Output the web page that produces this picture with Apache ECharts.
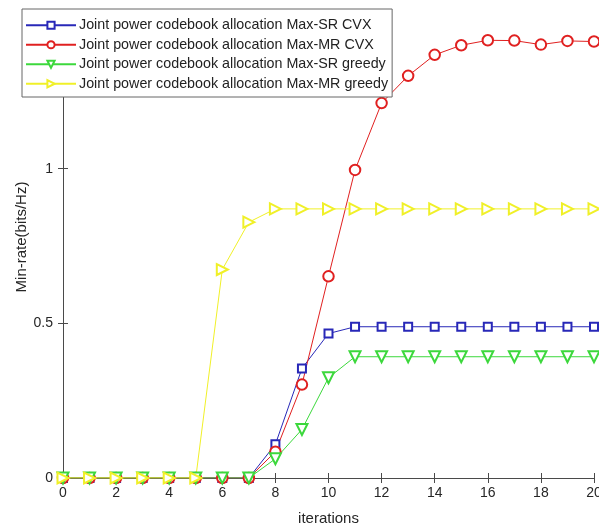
<!DOCTYPE html>
<html>
<head>
<meta charset="utf-8">
<script src="https://cdn.jsdelivr.net/npm/echarts@6/dist/echarts.min.js"></script>
<style>
  html, body { margin: 0; padding: 0; background: #fff; }
  #chart { width: 599px; height: 528px; }
</style>
</head>
<body>
<div id="chart"></div>
<script>
  // iterations 0..20
  const iterations = [0,1,2,3,4,5,6,7,8,9,10,11,12,13,14,15,16,17,18,19,20]
  const xTicks = [0,2,4,6,8,10,12,14,16,18,20]
  const yTicks = [0, 0.5, 1]

  const seriesNames = [
    'Joint power codebook allocation Max-SR CVX',
    'Joint power codebook allocation Max-MR CVX',
    'Joint power codebook allocation Max-SR greedy',
    'Joint power codebook allocation Max-MR greedy'
  ]
  const srCvx    = [0,0,0,0,0,0,0,0,0.109,0.354,0.467,0.489,0.489,0.489,0.489,0.489,0.489,0.489,0.489,0.489,0.489]
  const mrCvx    = [0,0,0,0,0,0,0,0,0.085,0.302,0.652,0.996,1.212,1.300,1.368,1.399,1.415,1.414,1.401,1.413,1.411]
  const srGreedy = [0,0,0,0,0,0,0,0,0.062,0.157,0.324,0.392,0.392,0.392,0.392,0.392,0.392,0.392,0.392,0.392,0.392]
  const mrGreedy = [0,0,0,0,0,0,0.674,0.827,0.870,0.870,0.870,0.870,0.870,0.870,0.870,0.870,0.870,0.870,0.870,0.870,0.870]

  const pairs = vals => iterations.map((x, i) => [x, vals[i]])

  const chart = echarts.init(document.getElementById('chart'))
  const font = 'Liberation Sans, Arial, Helvetica, sans-serif'
  const axisColor = '#4a4a4a'

  function mkSeries(name, vals, color, symbol, size, rotate) {
    return {
      name: name,
      type: 'line',
      data: pairs(vals),
      symbol: symbol,
      symbolSize: size,
      symbolRotate: rotate,
      showAllSymbol: true,
      lineStyle: { color: color, width: 1 },
      itemStyle: { color: color, borderColor: color, borderWidth: 1.2 },
      emphasis: { disabled: true },
      animation: false
    }
  }

  chart.setOption({
    animation: false,
    textStyle: { fontFamily: font },
    grid: { left: 63, right: 5, top: 14, bottom: 50, outerBoundsMode: 'none' },
    legend: {
      orient: 'vertical',
      left: 22,
      top: 9,
      padding: [8, 4, 5, 3],
      itemWidth: 50,
      itemHeight: 9,
      itemGap: 3,
      backgroundColor: '#fff',
      borderColor: '#666',
      borderWidth: 1,
      borderRadius: 0,
      textStyle: { fontFamily: font, fontSize: 14.3, lineHeight: 16.5, color: '#222', padding: [0, 0, 0, -2] },
      data: seriesNames
    },
    xAxis: [{
      type: 'value',
      min: 0, max: 20, interval: 2,
      name: 'iterations',
      nameLocation: 'middle',
      nameGap: 33,
      nameTextStyle: { fontSize: 15, color: '#262626', fontFamily: font },
      axisLine: { lineStyle: { color: axisColor } },
      axisTick: { inside: true, length: 5, lineStyle: { color: axisColor } },
      axisLabel: { fontSize: 14, color: '#262626', margin: 8,
        formatter: v => xTicks.indexOf(v) >= 0 ? String(v) : '' },
      splitLine: { show: false }
    }, {
      type: 'value', position: 'top',
      min: 0, max: 20, interval: 2,
      axisLine: { show: true, lineStyle: { color: axisColor } },
      axisTick: { inside: true, length: 5, lineStyle: { color: axisColor } },
      axisLabel: { show: false },
      splitLine: { show: false }
    }],
    yAxis: [{
      type: 'value',
      min: 0, max: 1.5, interval: 0.5,
      name: 'Min-rate(bits/Hz)',
      nameLocation: 'middle',
      nameGap: 34,
      nameMoveOverlap: false,
      nameTextStyle: { fontSize: 15, color: '#262626', fontFamily: font, padding: [0, 0, 0, 18] },
      axisLine: { show: true, lineStyle: { color: axisColor } },
      axisTick: { inside: true, length: 5, lineStyle: { color: axisColor } },
      axisLabel: { fontSize: 14, color: '#262626', margin: 10,
        formatter: v => yTicks.indexOf(v) >= 0 ? String(v) : '' },
      splitLine: { show: false }
    }, {
      type: 'value', position: 'right',
      min: 0, max: 1.5, interval: 0.5,
      axisLine: { show: true, lineStyle: { color: axisColor } },
      axisTick: { inside: true, length: 5, lineStyle: { color: axisColor } },
      axisLabel: { show: false },
      splitLine: { show: false }
    }],
    series: [
      mkSeries(seriesNames[0], srCvx, '#2828b8', 'emptyRect', 8, 0),
      mkSeries(seriesNames[1], mrCvx, '#e02020', 'emptyCircle', 10.5, 0),
      mkSeries(seriesNames[2], srGreedy, '#3cd83c', 'emptyTriangle', 11, 180),
      mkSeries(seriesNames[3], mrGreedy, '#f0f028', 'emptyTriangle', 11, -90)
    ]
  })
</script>
</body>
</html>
